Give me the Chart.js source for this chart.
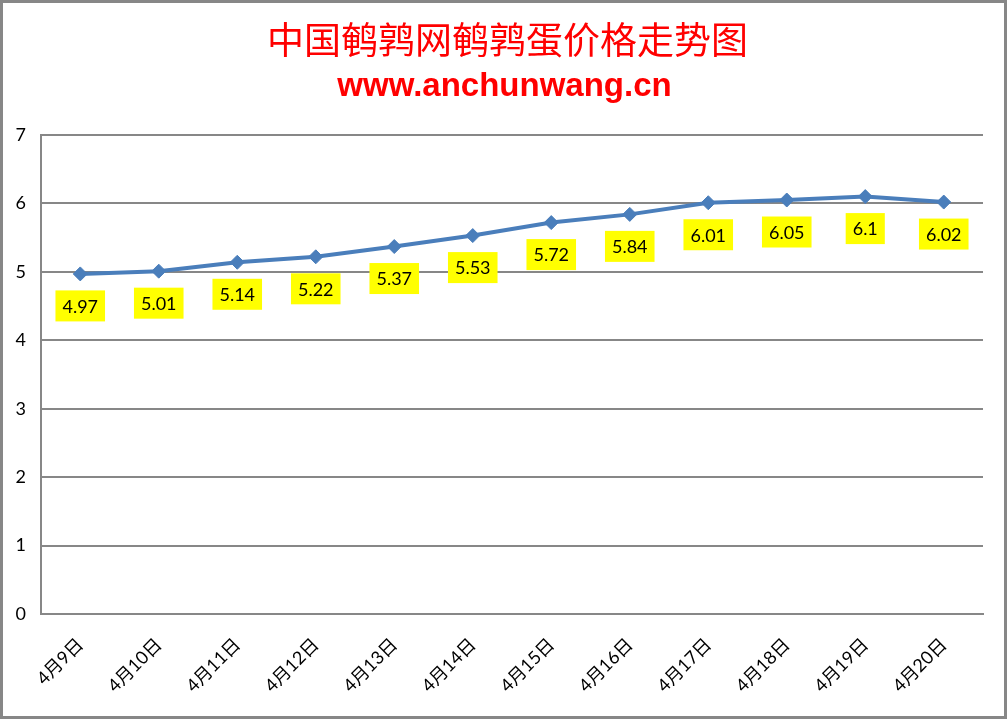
<!DOCTYPE html>
<html><head><meta charset="utf-8">
<script src="https://cdn.jsdelivr.net/npm/chart.js@4"></script>
<style>html,body{margin:0;padding:0;background:#fff}canvas{display:block}</style>
</head><body>
<canvas id="c" width="1007" height="719"></canvas>
<script>
const titleText = '中国鹌鹑网鹌鹑蛋价格走势图';
const subtitleText = 'www.anchunwang.cn';
const categories = ['4月9日','4月10日','4月11日','4月12日','4月13日','4月14日','4月15日','4月16日','4月17日','4月18日','4月19日','4月20日'];
const prices = [4.97,5.01,5.14,5.22,5.37,5.53,5.72,5.84,6.01,6.05,6.1,6.02];
const yTicks = [0,1,2,3,4,5,6,7];

const GRAY = '#878787';

const framePlugin = {
  id: 'frame',
  afterDraw(chart) {
    const ctx = chart.ctx;
    ctx.save();
    ctx.strokeStyle = GRAY;
    ctx.lineWidth = 3;
    ctx.strokeRect(1.5, 1.5, chart.width - 3, chart.height - 3);
    ctx.restore();
  }
};

const titlesPlugin = {
  id: 'titles',
  afterDraw(chart) {
    const ctx = chart.ctx;
    const cx = chart.width / 2 + 1;
    ctx.save();
    ctx.fillStyle = '#ff0000';
    ctx.textAlign = 'center';
    ctx.textBaseline = 'middle';
    ctx.font = '37px "Noto Sans CJK SC"';
    ctx.fillText(titleText, cx + 3, 40);
    ctx.font = 'bold 33px "Liberation Sans"';
    ctx.textBaseline = 'alphabetic';
    ctx.fillText(subtitleText, cx, 96);
    ctx.restore();
  }
};

const labelsPlugin = {
  id: 'valueLabels',
  afterDatasetsDraw(chart) {
    const ctx = chart.ctx;
    const meta = chart.getDatasetMeta(0);
    ctx.save();
    ctx.font = '18px Lato';
    ctx.textAlign = 'center';
    ctx.textBaseline = 'middle';
    meta.data.forEach((pt, i) => {
      const txt = String(prices[i]);
      const w = ctx.measureText(txt).width + 14;
      const h = 31;
      const cx = pt.x, cy = pt.y + 32;
      ctx.fillStyle = '#ffff00';
      ctx.fillRect(cx - w / 2, cy - h / 2, w, h);
      ctx.fillStyle = '#000';
      ctx.fillText(txt, cx, cy + 1);
    });
    ctx.restore();
  }
};

new Chart(document.getElementById('c'), {
  type: 'line',
  data: {
    labels: categories,
    datasets: [{
      data: prices,
      borderColor: '#4a7ebb',
      backgroundColor: '#4a7ebb',
      borderWidth: 4,
      pointStyle: 'rectRot',
      pointRadius: 7,
      pointBorderWidth: 1,
      pointBorderColor: '#4a7ebb',
      pointBackgroundColor: '#4a7ebb',
      tension: 0,
      fill: false
    }]
  },
  options: {
    responsive: false,
    animation: false,
    devicePixelRatio: 1,
    layout: { padding: { top: 135, right: 24, left: 0, bottom: 0 } },
    plugins: { legend: { display: false }, title: { display: false }, tooltip: { enabled: false } },
    scales: {
      x: {
        offset: true,
        grid: { display: false, drawTicks: false },
        border: { display: true, color: GRAY, width: 2 },
        ticks: {
          color: '#000',
          font: { family: 'Lato, "Noto Sans CJK SC"', size: 18 },
          minRotation: 45, maxRotation: 45,
          padding: 20,
          autoSkip: false
        },
        afterFit(s) { s.height = 105; }
      },
      y: {
        min: 0, max: 7,
        afterBuildTicks(s) { s.ticks = yTicks.map(v => ({ value: v })); },
        grid: { color: GRAY, lineWidth: 2, drawTicks: false },
        border: { display: true, color: GRAY, width: 2 },
        ticks: {
          color: '#000',
          font: { family: 'Lato', size: 18 },
          padding: 15
        },
        afterFit(s) { s.width = 41; }
      }
    }
  },
  plugins: [labelsPlugin, titlesPlugin, framePlugin]
});
</script>
</body></html>
